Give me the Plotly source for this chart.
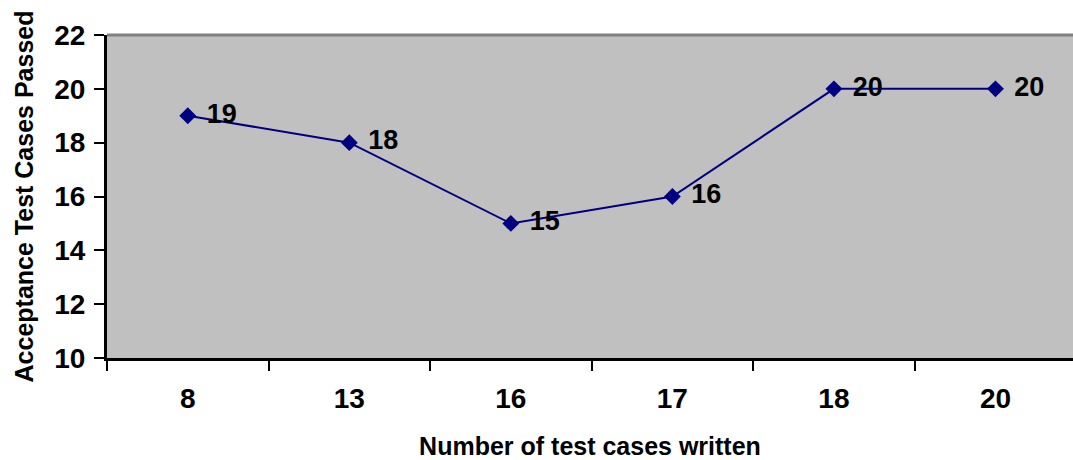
import plotly.graph_objects as go

# Test-case counts and acceptance results
tests_written = ["8", "13", "16", "17", "18", "20"]
tests_passed = [19, 18, 15, 16, 20, 20]
y_ticks = [10, 12, 14, 16, 18, 20, 22]

navy = "#000080"
font_family = "Arial, Liberation Sans, sans-serif"

fig = go.Figure()
fig.add_trace(go.Scatter(
    x=tests_written,
    y=tests_passed,
    mode="lines+markers+text",
    line=dict(color=navy, width=2),
    marker=dict(symbol="diamond", size=13, color=navy),
    text=[f" \u200a<b>{v}</b>" for v in tests_passed],
    textposition="middle right",
    textfont=dict(family=font_family, size=27, color="black"),
    cliponaxis=False,
    showlegend=False,
))

fig.update_layout(
    width=1073,
    height=460,
    margin=dict(l=107, r=0, t=35, b=102),
    paper_bgcolor="white",
    plot_bgcolor="#C0C0C0",
    font=dict(family=font_family, color="black"),
    xaxis=dict(
        type="category",
        range=[-0.5, 5.48],
        tickson="boundaries",
        ticks="outside",
        ticklen=10,
        tickwidth=2,
        tickcolor="black",
        showline=True,
        linecolor="black",
        linewidth=3,
        showgrid=False,
        zeroline=False,
        tickfont=dict(size=28, family=font_family),
        tickprefix="<b>",
        ticksuffix="</b>",
        ticklabelstandoff=13,
        title=dict(
            text="<b>Number of test cases written</b>",
            font=dict(size=25, family=font_family),
            standoff=25,
        ),
    ),
    yaxis=dict(
        range=[10, 22],
        tickvals=y_ticks,
        ticktext=[f"<b>{v}</b>" for v in y_ticks],
        ticks="outside",
        ticklen=10,
        tickwidth=2,
        tickcolor="black",
        showline=True,
        linecolor="black",
        linewidth=3,
        showgrid=False,
        zeroline=False,
        tickfont=dict(size=28, family=font_family),
        ticklabelstandoff=3,
        title=dict(
            text="<b>Acceptance Test Cases Passed</b>",
            font=dict(size=25, family=font_family),
            standoff=14,
        ),
    ),
    shapes=[dict(
        type="line", xref="paper", yref="paper",
        x0=0, x1=1, y0=1, y1=1,
        line=dict(color="#808080", width=3),
    )],
)

fig.write_html("out.html")
